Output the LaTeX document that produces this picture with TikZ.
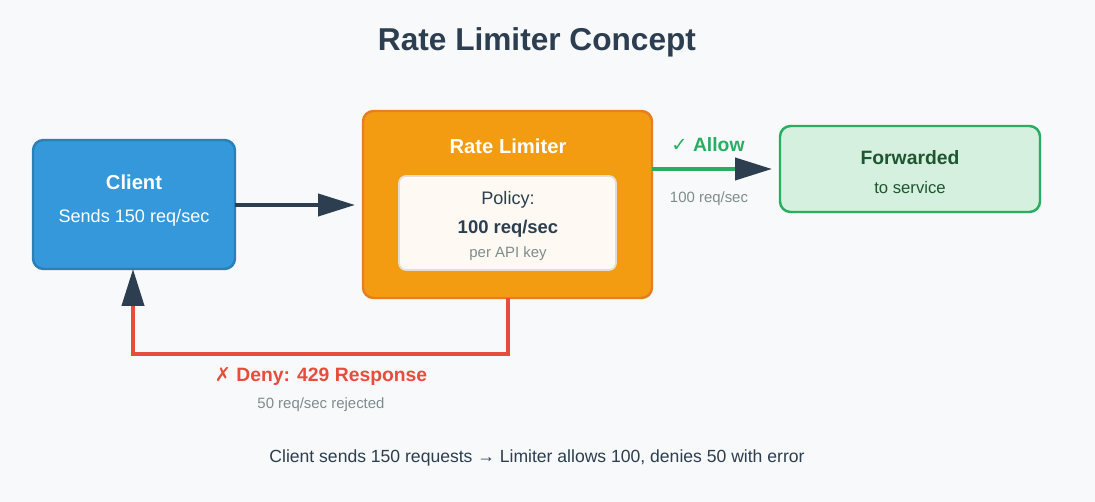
\documentclass[tikz,border=0pt]{standalone}
\usepackage{fontspec}
\setmainfont{Liberation Sans}
\newfontfamily\symfont{DejaVu Sans}
\usetikzlibrary{arrows.meta}
\definecolor{ink}{HTML}{2C3E50}
\definecolor{pagebg}{HTML}{F8F9FA}
\definecolor{clientblue}{HTML}{3498DB}
\definecolor{clientedge}{HTML}{2A80B9}
\definecolor{limorange}{HTML}{F39C12}
\definecolor{limedge}{HTML}{E67E22}
\definecolor{policyfill}{HTML}{FEF9F2}
\definecolor{policyedge}{HTML}{E1DED7}
\definecolor{okgreen}{HTML}{27AE60}
\definecolor{okfill}{HTML}{D5F0DE}
\definecolor{okdark}{HTML}{1E5631}
\definecolor{denyred}{HTML}{E74C3C}
\definecolor{mutedgray}{HTML}{7F8C8D}
\tikzstyle{box-node}=[rounded corners=6pt,line width=1.4pt,draw]
\tikzstyle{text-node}=[inner sep=0pt,anchor=center]
\tikzstyle{flow-line}=[line width=2.3pt]
\tikzstyle{big-head}=[-{Triangle[length=0.74cm,width=0.44cm,color=ink]}]

\begin{document}
\begin{tikzpicture}[x=0.02cm,y=-0.02cm]
        \fill[pagebg] (0,0) rectangle (1095,502);
        \useasboundingbox (0,0) rectangle (1095,502);

        \begin{scope}
            \node (title)[text-node,text=ink,font=\fontsize{18}{20}\selectfont\bfseries] at (537,42) {Rate Limiter Concept};

            \draw[box-node,fill=clientblue,draw=clientedge] (33,140) rectangle (235,269);
            \node (client)[text-node,text=white,font=\fontsize{11.5}{13}\selectfont\bfseries] at (134,182) {Client};
            \node (clientsub)[text-node,text=white,font=\fontsize{10.3}{12}\selectfont] at (134,218) {Sends 150 req/sec};
            \coordinate (clientout) at (235,205);
            \coordinate (clientin) at (133,269);

            \draw[box-node,fill=limorange,draw=limedge] (363,111) rectangle (652,298);
            \node (limiter)[text-node,text=white,font=\fontsize{11.5}{13}\selectfont\bfseries] at (508,146) {Rate Limiter};
            \draw[rounded corners=4pt,line width=1pt,fill=policyfill,draw=policyedge] (399,176) rectangle (616,270);
            \node (policy)[text-node,text=ink,font=\fontsize{10.3}{12}\selectfont] at (508,200) {Policy:};
            \node (rate)[text-node,text=ink,font=\fontsize{10.5}{12}\selectfont\bfseries] at (508,229) {100 req/sec};
            \node (perkey)[text-node,text=mutedgray,font=\fontsize{8.5}{10}\selectfont] at (508,254) {per API key};
            \coordinate (limin) at (355,205);
            \coordinate (limout) at (652,169);
            \coordinate (limdown) at (508,298);

            \draw[box-node,fill=okfill,draw=okgreen] (780,126) rectangle (1040,212);
            \node (fwd)[text-node,text=okdark,font=\fontsize{11}{13}\selectfont\bfseries] at (910,158) {Forwarded};
            \node (fwdsub)[text-node,text=okdark,font=\fontsize{9.5}{11}\selectfont] at (910,188) {to service};
            \coordinate (fwdin) at (772,169);

            \node (allow)[text-node,text=okgreen,font=\fontsize{11}{13}\selectfont\bfseries] at (708,145) {{\symfont ✓} Allow};
            \node (allowrate)[text-node,text=mutedgray,font=\fontsize{8.5}{10}\selectfont] at (709,199) {100 req/sec};
            \node (deny)[text-node,text=denyred,font=\fontsize{11}{13}\selectfont\bfseries] at (321,376) {{\symfont ✗} Deny: 429 Response};
            \node (denyrate)[text-node,text=mutedgray,font=\fontsize{8.5}{10}\selectfont] at (321,405) {50 req/sec rejected};
            \node (caption)[text-node,text=ink,font=\fontsize{10}{12}\selectfont] at (537,458) {Client sends 150 requests → Limiter allows 100, denies 50 with error};
        \end{scope}

        \begin{scope}
            \draw[flow-line,draw=ink,big-head] (clientout) -- (limin);
            \draw[flow-line,draw=okgreen,big-head] (limout) -- (fwdin);
            \draw[flow-line,draw=denyred,big-head] (limdown) -- (508,354) -- (133,354) -- (clientin);
        \end{scope}

    \end{tikzpicture}
\end{document}
